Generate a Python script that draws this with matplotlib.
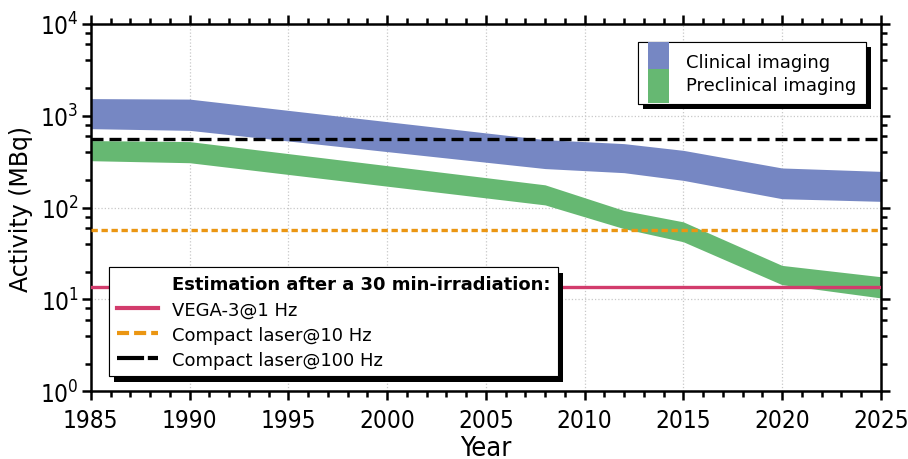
import matplotlib
matplotlib.use("Agg")
import matplotlib.pyplot as plt
import matplotlib.ticker as ticker
import matplotlib.patheffects as pe
from matplotlib.lines import Line2D
from matplotlib.patches import Patch, Rectangle
from matplotlib.legend_handler import HandlerPatch

# band data (MBq)
years = [1985, 1990, 2008, 2012, 2015, 2020, 2025]
clinical_high = [1536, 1517, 549, 497, 420, 270, 248]
clinical_low = [723, 693, 266, 240, 198, 125, 117]
preclinical_high = [536, 523, 177, 93, 70, 23.5, 17.7]
preclinical_low = [324, 308, 107, 59, 42.5, 14.5, 10.4]

# 30 min irradiation estimates
vega3_1hz = 13.6
laser_10hz = 57.4
laser_100hz = 563

blue = '#7687c3'
green = '#66b872'
pink = '#d23c6c'
orange = '#eb9612'

matplotlib.rc('font', family='DejaVu Sans')
matplotlib.rc('mathtext', fontset='custom', rm='DejaVu Sans:stretch=condensed',
              it='DejaVu Sans:stretch=condensed', bf='DejaVu Sans:stretch=condensed')

fig = plt.figure(figsize=(9.08, 4.6), dpi=100)
ax = fig.add_axes([0.100, 0.147, 0.870, 0.799])

ax.fill_between(years, clinical_low, clinical_high, color=blue, linewidth=0, zorder=2)
ax.fill_between(years, preclinical_low, preclinical_high, color=green, linewidth=0, zorder=2)

ax.axhline(vega3_1hz, color=pink, linewidth=2.4, zorder=3)
ax.axhline(laser_10hz, color=orange, linewidth=2.4, linestyle=(0, (1.9, 1.1)), zorder=3)
ax.axhline(laser_100hz, color='black', linewidth=2.4, linestyle=(0, (3.6, 1.8)), zorder=3)

ax.set_yscale('log')
ax.set_ylim(1, 1e4)
ax.set_xlim(1985, 2025)

ax.xaxis.set_major_locator(ticker.MultipleLocator(5))
ax.xaxis.set_minor_locator(ticker.MultipleLocator(1))
ax.yaxis.set_major_locator(ticker.LogLocator(base=10, numticks=10))
ax.yaxis.set_minor_locator(ticker.LogLocator(base=10, subs=[2, 4, 6, 8], numticks=10))
ax.yaxis.set_minor_formatter(ticker.NullFormatter())

ax.grid(True, which='major', color='#c8c8c8', linestyle=':', linewidth=0.9, zorder=0)

for s in ax.spines.values():
    s.set_linewidth(1.8)
ax.tick_params(which='both', direction='out', top=True, right=True, width=1.8)
ax.tick_params(which='major', length=6.5, labelsize=17.5, pad=2)
ax.tick_params(axis='x', which='major', pad=5.5)
ax.tick_params(which='minor', length=4.3)
ax.tick_params(top=True, right=True, labeltop=False, labelright=False)
for lab in ax.get_xticklabels() + ax.get_yticklabels():
    lab.set_fontstretch('condensed')

ax.set_xlabel('Year', fontsize=19.5, labelpad=2, fontstretch='condensed')
ax.set_ylabel('Activity (MBq)', fontsize=17, labelpad=5)

shadow = [pe.withSimplePatchShadow(offset=(3.8, -3.8), shadow_rgbFace='black', alpha=1), pe.Normal()]

# legend patches reach up to / down to the frame, as in the original
leg_fs = 13
leg_pad = 0.55 * leg_fs
leg_gap = 0.2 * leg_fs
split = 1.8


def top_patch(legend, orig_handle, xdescent, ydescent, width, height, fontsize):
    # runs a little lower than needed, the green patch covers the overlap
    return Rectangle((-xdescent, -ydescent + split - 5), width, height + leg_pad - split + 5)


def bottom_patch(legend, orig_handle, xdescent, ydescent, width, height, fontsize):
    return Rectangle((-xdescent, -ydescent - leg_pad), width, height + leg_gap + split + leg_pad)


h1 = [Patch(color=blue, linewidth=0), Patch(color=green, linewidth=0)]
leg1 = ax.legend(h1, ['Clinical imaging', 'Preclinical imaging'], loc='upper right',
                 bbox_to_anchor=(0.981, 0.951), borderaxespad=0, fontsize=leg_fs,
                 handlelength=1.16, handleheight=1.2, labelspacing=0.2, borderpad=0.55,
                 handletextpad=0.94, fancybox=False, framealpha=1, edgecolor='black',
                 handler_map={h1[0]: HandlerPatch(patch_func=top_patch),
                              h1[1]: HandlerPatch(patch_func=bottom_patch)})
leg1.get_frame().set_linewidth(0.8)
leg1.get_frame().set_path_effects(shadow)
leg1.set_zorder(5)
ax.add_artist(leg1)

h2 = [Line2D([], [], color='none'),
      Line2D([], [], color=pink, linewidth=3),
      Line2D([], [], color=orange, linewidth=3, linestyle=(0, (2.9, 1.2))),
      Line2D([], [], color='black', linewidth=3, linestyle=(0, (6.5, 0.9)))]
l2 = ['Estimation after a 30 min-irradiation:', 'VEGA-3@1 Hz',
      'Compact laser@10 Hz', 'Compact laser@100 Hz']
leg2 = ax.legend(h2, l2, loc='lower left', bbox_to_anchor=(0.0228, 0.0405),
                 borderaxespad=0, fontsize=leg_fs, handlelength=2.27, handletextpad=0.78,
                 labelspacing=0.4, borderpad=0.43, fancybox=False, framealpha=1,
                 edgecolor='black')
leg2.get_texts()[0].set_fontweight('bold')
leg2.get_frame().set_linewidth(0.8)
leg2.get_frame().set_path_effects(shadow)
leg2.set_zorder(5)

fig.savefig('out.png', dpi=100)
